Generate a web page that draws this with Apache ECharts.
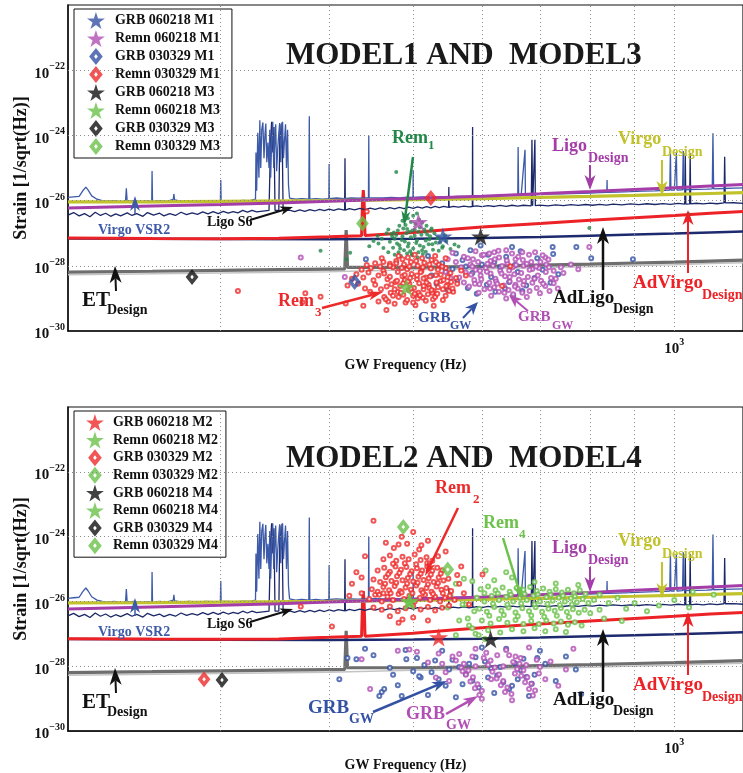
<!DOCTYPE html>
<html><head><meta charset="utf-8">
<script src="https://cdn.jsdelivr.net/npm/echarts@6/dist/echarts.min.js"></script>
<style>html,body{margin:0;padding:0;background:#fff}#c{width:743px;height:773px}</style>
</head><body><div id="c"></div>
<script>
// ---------------- DATA ----------------
const X_GRID = [300,400,500,600,700,800,900,1000];
const X_TICK = 1000, X_TICK_LABEL = ['10','3'];
const Y_TICKS = [1e-30,1e-28,1e-26,1e-24,1e-22];
const Y_TICK_LABELS = ['\u221230','\u221228','\u221226','\u221224','\u221222'];

const virgoVSR2 = [[200,1.25e-26],[203,1.3e-26],[206,1.35e-26],[208,2.0e-26],[209.7,2.6e-26],[211,2.1e-26],[213,1.4e-26],[216,1.1e-26],[219,1.0e-26],[222,9.6e-27],[226,1.0e-26],[230,9.3e-27],[233,9.6e-27],[233.5,2.4e-26],[234,9.6e-27],[238,1.0e-26],[243,9.4e-27],[247,9.8e-27],[249.8,9.5e-27],[250,8.1e-26],[250.3,9.5e-27],[255,1.0e-26],[260,9.5e-27],[264.5,1.1e-26],[264.9,1.6e-26],[265.4,1.05e-26],[270,9.7e-27],[276,1.0e-26],[282,9.6e-27],[288,1.0e-26],[294,9.8e-27],[299.7,1.0e-26],[300,4.3e-26],[300.3,1.0e-26],[306,1.0e-26],[312,9.7e-27],[318,1.02e-26],[324,1.0e-26],[329,1.1e-26],
[329.4,3.0e-25],[330,2e-26],[331,1.2e-24],[332,5e-26],[332.8,2.9e-24],[333.6,1e-25],[334.5,1.5e-24],[335.5,2.5e-24],[336.5,2e-25],[337.3,1.0e-24],[338.1,2.3e-24],[339,1.5e-25],[340,6e-25],[341,1e-25],[341.7,1.5e-24],[342.5,5e-26],[343.5,8e-25],[344.4,2.6e-24],[345.3,1e-25],[346.2,5e-25],[347.1,2.2e-24],[348,8e-26],[349,4e-25],[350,1.2e-24],[350.8,2.4e-24],[351.8,1.5e-25],[352.6,1.0e-24],[353.5,2.6e-24],[354.4,2e-25],[355.3,7e-25],[356.3,2.2e-24],[357.2,1e-25],[358.2,1.5e-24],[359.1,3e-26],[360.1,1.2e-26],
[366,1.1e-26],[372,1.15e-26],[379,1.1e-26],[379.5,3.9e-24],[380,1.1e-26],[386,1.15e-26],[393,1.1e-26],[399.7,1.15e-26],[400,1.33e-25],[400.3,1.15e-26],[408,1.2e-26],[416,1.15e-26],[424,1.2e-26],[432,1.18e-26],[440,1.2e-26],[444,1.2e-26],[444.4,1.0e-24],[444.8,1.2e-26],[452,1.22e-26],[462,1.2e-26],[472,1.25e-26],[482,1.22e-26],[492,1.28e-26],[499.7,1.25e-26],[500,8.7e-26],[500.3,1.25e-26],[512,1.3e-26],[525,1.28e-26],[538,1.33e-26],[550,1.3e-26],[562,1.35e-26],[575,1.35e-26],[590,1.38e-26],[605,1.4e-26],[620,1.42e-26],[635,1.45e-26],[650,1.45e-26],[660,1.5e-26],[660.6,4.4e-25],[661.5,1.5e-26],[666,1.5e-26],[672.8,3.6e-25],[673.5,1.5e-26],[680,1.5e-26],[700,1.55e-26],[720,1.6e-26],[740,1.6e-26],[760,1.65e-26],[780,1.68e-26],[800,1.7e-26],[820,1.75e-26],[836,1.78e-26],[836.5,4.3e-26],[837,1.78e-26],[860,1.82e-26],[890,1.88e-26],[920,1.95e-26],[950,2.0e-26],[975,2.05e-26],[988,2.1e-26],[989.7,3.6e-25],[991,2.1e-26],[1000,2.1e-26],[1004,2.1e-26],[1005.5,3.0e-25],[1007,2.1e-26],[1022,2.15e-26],[1024,3.3e-25],[1026,2.15e-26],[1060,2.2e-26],[1090,2.25e-26],[1106,2.3e-26],[1108,1.17e-24],[1110,2.3e-26],[1140,2.35e-26],[1170,2.4e-26],[1200,2.45e-26]];

const ligoS6 = [[200,3.6e-27],[203,4.3e-27],[206,3.4e-27],[209,4.0e-27],[212,3.2e-27],[215,4.4e-27],[218,3.5e-27],[221,4.1e-27],[224,3.3e-27],[227,3.9e-27],[230,3.4e-27],[234,4.2e-27],[237,3.5e-27],[240,4.0e-27],[244,3.3e-27],[247,4.3e-27],[251,3.6e-27],[255,4.1e-27],[258,3.4e-27],[262,4.0e-27],[266,3.5e-27],[270,4.4e-27],[274,3.7e-27],[278,4.2e-27],[282,3.8e-27],[286,4.5e-27],[290,3.9e-27],[294,4.6e-27],[298,4.0e-27],[302,4.7e-27],[306,4.1e-27],[310,4.6e-27],[314,4.2e-27],[318,5.0e-27],[322,4.4e-27],[326,5.0e-27],[330,4.5e-27],
[341,5e-27],[342.5,8e-25],[343.4,2.6e-24],[344.5,3e-25],[345.5,1.8e-24],[346.5,5e-27],[350,5e-27],[351,2.2e-24],[352,4e-25],[353,2.5e-24],[354,5e-27],
[360,5.1e-27],[365,4.6e-27],[370,5.2e-27],[375,4.7e-27],[380,5.3e-27],[385,4.8e-27],[390,5.4e-27],[395,4.9e-27],[400,5.5e-27],[405,5.0e-27],[410,5.6e-27],[416.8,5.1e-27],[417.2,2.0e-25],[417.6,5.1e-27],[422,5.7e-27],[428,5.2e-27],[434,5.8e-27],[440,5.3e-27],[446,5.9e-27],[452,5.4e-27],[458,6.0e-27],[464,5.5e-27],[470,6.1e-27],[476,5.6e-27],[482,6.2e-27],[488,5.7e-27],[494,6.3e-27],[500,5.8e-27],[506,6.4e-27],[512,5.9e-27],[518,6.5e-27],[524,6.0e-27],[530,6.6e-27],[536,6.1e-27],[542,6.6e-27],[549.3,6.2e-27],[549.6,2.6e-26],[550,6.2e-27],[556,6.7e-27],[564,6.3e-27],[572,6.8e-27],[580,6.4e-27],[585,6.6e-27],[585.4,1.8e-24],[585.8,6.6e-27],[592,6.9e-27],[600,6.5e-27],[610,7.0e-27],[620,6.6e-27],[630,7.1e-27],[640,6.7e-27],[650,7.2e-27],[660,6.8e-27],[670,7.2e-27],[684,6.9e-27],[685.3,7.3e-25],[686.5,6.9e-27],[690,7.0e-27],[690.7,7.3e-25],[691.5,7.0e-27],[700,7.3e-27],[715,6.9e-27],[730,7.4e-27],[745,7.0e-27],[760,7.5e-27],[775,7.1e-27],[790,7.6e-27],[805,7.2e-27],[820,7.7e-27],[835,7.3e-27],[850,7.8e-27],[870,7.4e-27],[890,7.9e-27],[910,7.5e-27],[930,8.0e-27],[950,7.6e-27],[970,8.1e-27],[990,7.7e-27],[1010,8.2e-27],[1028,7.8e-27],[1029.5,2.9e-25],[1031,7.8e-27],[1041.5,7.9e-27],[1043,2.9e-25],[1044.5,7.9e-27],[1060,8.3e-27],[1080,7.9e-27],[1100,8.4e-27],[1120,8.0e-27],[1141,8.5e-27],[1143,2.2e-25],[1145,8.5e-27],[1170,8.6e-27],[1200,8.2e-27]];

const virgoDesign = [[200,9.1e-27],[250,9.2e-27],[300,9.5e-27],[400,1.0e-26],[500,1.07e-26],[600,1.15e-26],[700,1.25e-26],[800,1.35e-26],[900,1.45e-26],[1000,1.55e-26],[1100,1.65e-26],[1200,1.75e-26]];
const ligoDesign = [[200,5.9e-27],[250,6.8e-27],[300,7.6e-27],[350,8.5e-27],[400,9.6e-27],[500,1.15e-26],[600,1.37e-26],[700,1.62e-26],[800,1.9e-26],[900,2.2e-26],[1000,2.5e-26],[1100,2.8e-26],[1200,3.1e-26]];
const adVirgo = [[200,7.1e-28],[250,6.9e-28],[300,6.8e-28],[350,7.0e-28],[400,7.8e-28],[436,8.4e-28],[437,8e-27],[438,2.1e-26],[439,8e-27],[440,8.5e-28],[500,1.05e-27],[550,1.3e-27],[600,1.55e-27],[700,2.0e-27],[800,2.5e-27],[900,3.0e-27],[1000,3.5e-27],[1100,4.1e-27],[1200,4.6e-27]];
const adLigo = [[200,6.9e-28],[300,6.6e-28],[400,6.5e-28],[500,6.7e-28],[600,7.1e-28],[700,7.7e-28],[800,8.4e-28],[900,9.1e-28],[1000,9.8e-28],[1100,1.05e-27],[1200,1.12e-27]];
const etDesign = [[200,6.4e-29],[250,6.8e-29],[300,7.2e-29],[350,7.6e-29],[400,7.9e-29],[417,8.0e-29],[418.5,1.25e-27],[420,9.0e-29],[500,9.0e-29],[600,9.6e-29],[700,1.05e-28],[800,1.13e-28],[900,1.22e-28],[1000,1.3e-28],[1100,1.4e-28],[1200,1.5e-28]];
const etLow = [[200,5.3e-29],[300,6.0e-29],[400,6.6e-29],[500,7.5e-29],[600,8.0e-29],[700,8.8e-29],[800,9.4e-29],[900,1.02e-28],[1000,1.08e-28],[1100,1.17e-28],[1200,1.25e-28]];

// top panel clusters (MODEL1 / MODEL3)
const rem1 = [[478,8.8e-28],[485,6.2e-28],[491,1.0e-27],[497,7.5e-28],[504,5.0e-28],[511,9.0e-28],[517,6.0e-28],[470,5.5e-28],[474,3.6e-28],[482,4.3e-28],[488,3.0e-28],[494,4.8e-28],[500,3.4e-28],[507,2.6e-28],[514,3.8e-28],[521,4.6e-28],[527,3.1e-28],[480,1.2e-27],[487,1.4e-27],[495,1.1e-27],[502,1.3e-27],[509,1.5e-27],[516,1.1e-27],[523,8.0e-28],[473,7.8e-28],[466,1.0e-27],[460,6.8e-28],[456,4.8e-28],[462,3.5e-28],[468,2.6e-28],[476,2.2e-28],[484,2.0e-28],[492,2.4e-28],[499,2.1e-28],[506,1.8e-28],[513,2.3e-28],[520,2.0e-28],[531,5.2e-28],[536,7.0e-28],[541,4.0e-28],[546,5.8e-28],[552,3.3e-28],[558,4.5e-28],[564,3.9e-28],[450,5.8e-28],[445,4.0e-28],[455,8.2e-28],[490,1.8e-27],[497,2.2e-27],[503,1.9e-27],[508,2.6e-27],[493,2.9e-27],[500,3.4e-27],[486,2.4e-27],[512,2.1e-27],[518,1.7e-27],[505,4.0e-27],[482,1.7e-27],[525,1.4e-27],[478,7.6e-26],[391,2.9e-28],[419,1.6e-28],[423,2.5e-28],[798,1.45e-27],[1038,3.9e-27],
[468,1.3e-27],[472,9.5e-28],[476,6.8e-28],[479,4.8e-28],[483,3.4e-28],[486,8.0e-28],[489,5.6e-28],[493,3.9e-28],[496,2.8e-28],[499,1.2e-27],[502,8.4e-28],[505,6.0e-28],[509,4.2e-28],[512,3.0e-28],[515,1.3e-27],[519,9.2e-28],[522,6.5e-28],[526,4.6e-28],[529,1.0e-27],[533,7.3e-28],[537,5.2e-28],[540,3.6e-28],[544,8.6e-28],[475,1.05e-27],[492,1.35e-27],[507,1.1e-27],[524,1.2e-27],[481,2.6e-28],[498,2.3e-28],[517,2.7e-28],[535,2.9e-28]];
const rem3 = [[474,9e-29],[480,6.5e-29],[486,4.8e-29],[492,7.8e-29],[498,5.6e-29],[505,3.9e-29],[511,6.9e-29],[517,4.4e-29],[524,8.2e-29],[531,5.1e-29],[538,3.4e-29],[477,3.2e-29],[483,2.4e-29],[489,3.6e-29],[495,2.8e-29],[501,2.1e-29],[508,2.9e-29],[514,1.9e-29],[521,2.6e-29],[528,1.7e-29],[534,2.2e-29],[480,1.6e-29],[487,1.3e-29],[494,1.8e-29],[500,1.2e-29],[507,1.5e-29],[513,1.05e-29],[520,1.35e-29],[527,9.5e-30],[470,1.15e-28],[478,1.4e-28],[488,1.1e-28],[497,1.3e-28],[506,1.0e-28],[515,1.25e-28],[525,1.5e-28],[535,1.1e-28],[545,8.5e-29],[552,6.0e-29],[560,4.2e-29],[568,7.2e-29],[575,5.0e-29],[462,7e-29],[456,5e-29],[450,3.6e-29],[444,6.2e-29],[438,4.4e-29],[432,2.8e-29],[466,2.3e-29],[459,1.9e-29],[452,2.6e-29],[446,1.6e-29],[440,2.0e-29],[471,1.5e-29],[463,1.1e-29],[468,8.0e-30],[476,6.8e-30],[490,7.5e-30],[503,6.2e-30],[541,1.9e-29],[548,2.6e-29],[556,1.6e-29],[545,1.2e-29],[553,3.2e-29],[481,2.0e-28],[493,1.8e-28],[512,1.7e-28],[502,2.2e-28],[530,2.0e-28],[545,1.7e-28],[460,1.7e-28],[375.5,1.43e-29],[391,1.13e-29],[372.6,7.6e-30],[438,5.9e-30],[465.7,4.4e-30],[528,6.0e-30],[418,7.0e-30],[314,1.7e-29],[647,9.7e-29],[633,2.4e-29],[442,4.6e-27],
[458,9.5e-29],[463,5.8e-29],[467,3.9e-29],[472,2.7e-29],[476,1.9e-29],[481,1.1e-29],[485,8.5e-29],[489,5.2e-29],[493,3.3e-29],[497,2.0e-29],[502,1.4e-29],[506,1.0e-29],[510,6.3e-29],[514,4.1e-29],[518,3.0e-29],[522,2.1e-29],[526,1.5e-29],[530,1.1e-29],[534,7.5e-29],[538,5.3e-29],[542,3.7e-29],[546,2.4e-29],[550,1.7e-29],[462,1.3e-28],[470,1.0e-28],[478,1.2e-28],[486,1.6e-28],[495,9.5e-29],[504,1.4e-28],[513,9.0e-29],[522,1.1e-28],[531,1.3e-28],[540,9.5e-29],[456,8.0e-30],[465,9.5e-30],[474,1.2e-29],[484,1.5e-29],[492,9.0e-30],[500,7.5e-30],[509,1.25e-29],[517,8.5e-30],[525,1.8e-29],[533,1.4e-29],[541,9.0e-30],[470,4.6e-29],[479,3.5e-29],[487,2.9e-29],[496,4.2e-29],[505,5.0e-29],[514,2.4e-29],[523,4.7e-29],[532,3.1e-29],[548,4.5e-29],[555,2.0e-29],[562,2.8e-29],[452,1.2e-28],[447,8.5e-29],[442,1.05e-28],[436,7.5e-29],[430,5.5e-29],[425,4.0e-29],[420,2.5e-29]];
const grbBlueTop = [[540,1.2e-28],[555,8e-29],[570,1.5e-28],[585,6e-29],[600,1.1e-28],[615,4.5e-29],[630,9e-29],[645,3.2e-29],[660,6.5e-29],[675,2.5e-29],[690,4.2e-29],[705,7.5e-29],[720,3.0e-29],[735,5.5e-29],[525,5.0e-29],[532,2.8e-29],[548,1.8e-29],[562,3.6e-29],[578,2.1e-29],[592,1.4e-29],[608,2.6e-29],[622,1.6e-29],[638,2.0e-29],[652,1.2e-29],[668,1.7e-29],[582,3.0e-28],[610,2.2e-28],[640,1.9e-28],[665,2.8e-28],[695,1.7e-28],[725,2.3e-28],[560,2.4e-28],[520,2.0e-28],[598,4.2e-28],[650,3.8e-28],[724,3.8e-28],[771,3.8e-28],[802,1.7e-28],[896,1.6e-28],[441,1.6e-28],[545,6.8e-29],[575,9.5e-29],[620,1.3e-28],[655,1.05e-28]];
const grbMagTop = [[560,1.3e-28],[568,9e-29],[575,6.2e-29],[582,1.1e-28],[590,7.5e-29],[598,5.0e-29],[606,8.5e-29],[614,5.8e-29],[622,4.0e-29],[630,7.0e-29],[638,4.8e-29],[646,3.3e-29],[654,5.5e-29],[662,3.8e-29],[670,2.6e-29],[678,4.5e-29],[686,3.0e-29],[694,2.1e-29],[702,3.5e-29],[710,2.4e-29],[718,1.7e-29],[726,2.9e-29],[734,2.0e-29],[565,4.4e-29],[572,3.1e-29],[580,2.3e-29],[588,3.7e-29],[596,2.7e-29],[604,1.9e-29],[612,3.0e-29],[620,2.2e-29],[628,1.6e-29],[636,2.5e-29],[644,1.8e-29],[652,1.35e-29],[660,2.0e-29],[668,1.5e-29],[676,1.1e-29],[572,1.9e-28],[586,1.6e-28],[600,2.1e-28],[614,1.4e-28],[628,1.8e-28],[642,1.2e-28],[656,1.6e-28],[670,1.0e-28],[684,1.3e-28],[698,8.5e-29],[712,1.1e-28],[726,7.0e-29],[740,9.0e-29],[555,2.5e-28],[590,2.8e-28],[620,2.6e-28],[650,2.4e-28],[680,2.2e-28],[710,1.8e-28],[545,6.5e-29],[552,4.2e-29],[548,1.6e-28],[595,1.5e-29],[615,1.2e-29],[640,1.0e-29],[700,1.45e-29],[730,4.0e-29],[745,6.0e-29],[760,1.1e-28],[775,7.8e-29],[371,1.8e-28],[417,4.5e-29],[798,3.8e-28],
[578,1.7e-28],[583,5.3e-29],[589,2.8e-29],[594,1.3e-28],[599,3.9e-29],[603,2.2e-28],[608,6.6e-29],[613,2.0e-29],[618,1.0e-28],[623,3.3e-29],[627,2.9e-28],[632,5.8e-29],[637,1.5e-29],[641,1.45e-28],[646,4.5e-29],[651,9.0e-29],[656,2.6e-29],[661,1.9e-28],[666,6.0e-29],[671,3.4e-29],[676,1.15e-28],[681,1.7e-29],[686,8.0e-29],[691,2.6e-28],[696,5.0e-29],[701,1.3e-28],[706,2.8e-29],[711,6.5e-29],[716,1.55e-28],[721,4.2e-29],[585,9.5e-29],[597,7.0e-29],[609,1.15e-28],[621,1.6e-28],[633,9.8e-29],[645,7.2e-29],[657,1.05e-28],[669,1.5e-28],[681,7.5e-29],[693,9.5e-29],[705,2.1e-28],[717,9.0e-29],[625,2.8e-29],[655,2.3e-29],[690,4.0e-29],[612,2.4e-28],[640,3.0e-28],[668,2.6e-28]];

// bottom panel clusters (MODEL2 / MODEL4)
const rem2 = [[445,1.2e-26],[452,1.6e-26],[460,1.0e-26],[467,1.4e-26],[474,1.1e-26],[481,1.7e-26],[488,1.2e-26],[495,1.5e-26],[502,1.0e-26],[509,1.3e-26],[516,1.6e-26],[523,1.1e-26],[530,1.4e-26],[537,1.0e-26],[544,1.3e-26],[551,1.5e-26],[558,1.1e-26],
[448,2.4e-26],[455,2.0e-26],[462,2.8e-26],[469,2.2e-26],[476,3.0e-26],[483,2.1e-26],[490,2.7e-26],[497,2.3e-26],[504,3.1e-26],[511,2.2e-26],[518,2.6e-26],[525,2.0e-26],[532,2.9e-26],[539,2.3e-26],[546,2.6e-26],[553,2.1e-26],
[450,4.8e-26],[458,4.0e-26],[465,5.6e-26],[472,4.3e-26],[479,6.0e-26],[486,4.5e-26],[493,5.3e-26],[500,4.1e-26],[507,5.8e-26],[514,4.6e-26],[521,5.2e-26],[528,4.0e-26],[535,5.5e-26],[542,4.4e-26],[549,5.0e-26],
[455,9.0e-26],[463,1.1e-25],[470,8.2e-26],[477,1.2e-25],[484,9.5e-26],[491,1.15e-25],[498,8.5e-26],[505,1.05e-25],[512,9.0e-26],[519,1.2e-25],[526,8.8e-26],[533,1.1e-25],[540,9.2e-26],
[462,2.0e-25],[470,2.6e-25],[478,1.8e-25],[486,2.4e-25],[494,2.0e-25],[502,2.8e-25],[510,1.9e-25],[518,2.3e-25],[526,1.8e-25],[534,2.5e-25],
[450,6.5e-27],[460,5.5e-27],[470,7.0e-27],[480,5.0e-27],[490,6.2e-27],[500,7.2e-27],[510,5.6e-27],[520,6.8e-27],[530,5.3e-27],[540,6.4e-27],[550,7.5e-27],
[457,1.6e-26],[471,1.8e-26],[485,1.9e-26],[499,1.8e-26],[513,1.9e-26],[527,1.7e-26],[541,1.8e-26],[464,3.5e-26],[478,3.8e-26],[492,3.6e-26],[506,3.8e-26],[520,3.4e-26],[534,3.7e-26],[468,7.0e-26],[482,7.5e-26],[496,7.0e-26],[510,7.2e-26],[524,6.8e-26],[538,7.3e-26],[474,1.45e-25],[489,1.5e-25],[504,1.4e-25],[519,1.55e-25],
[475,4.5e-25],[492,6.0e-25],[508,4.0e-25],[520,7.5e-25],[485,1.0e-24],[500,1.4e-24],[450,3.1e-24],[481,5.7e-25],[511,5.4e-25],[465,6.5e-25],[440,2.5e-25],[430,8.0e-26],[425,3.5e-26],[436,1.8e-26],[565,3.5e-26],[572,1.8e-26],[580,8.0e-27],[562,6.5e-26],[568,1.2e-25],[545,3.5e-25],
[403,1.7e-27],[481,2.2e-27],[486,2.8e-27],[470,3.5e-27],[500,3.2e-27],[520,2.6e-27],[422,1.5e-26],[462,1.8e-26],[371,7.0e-27],[436,5.5e-26],[601,6.8e-26]];
const rem4 = [[598,2.4e-26],[610,2.9e-26],[622,2.2e-26],[634,2.7e-26],[646,2.0e-26],[658,2.6e-26],[670,2.3e-26],[682,2.8e-26],[694,2.1e-26],[706,2.5e-26],[718,2.0e-26],[730,2.4e-26],[742,1.9e-26],[754,2.3e-26],[766,1.8e-26],[778,2.2e-26],[790,1.7e-26],
[592,1.3e-26],[604,1.0e-26],[616,1.5e-26],[628,1.1e-26],[640,1.4e-26],[652,1.0e-26],[664,1.3e-26],[676,1.1e-26],[688,1.5e-26],[700,1.0e-26],[712,1.35e-26],[724,1.05e-26],[736,1.3e-26],[748,1.0e-26],[760,1.25e-26],[772,9.5e-27],[784,1.2e-26],[796,9.0e-27],[808,1.1e-26],
[596,6.0e-27],[608,4.8e-27],[620,6.8e-27],[632,5.2e-27],[644,6.5e-27],[656,4.6e-27],[668,6.2e-27],[680,5.0e-27],[692,6.6e-27],[704,4.8e-27],[716,6.0e-27],[728,5.2e-27],[740,6.3e-27],[752,4.7e-27],[764,5.8e-27],[776,4.5e-27],[788,5.5e-27],[800,4.3e-27],
[600,2.6e-27],[614,2.1e-27],[628,2.9e-27],[642,2.2e-27],[656,2.7e-27],[670,2.0e-27],[684,2.5e-27],[698,2.0e-27],[712,2.6e-27],[726,2.1e-27],[740,2.4e-27],[754,1.9e-27],[768,2.3e-27],[782,1.8e-27],
[610,1.3e-27],[630,1.1e-27],[650,1.4e-27],[670,1.2e-27],[690,1.5e-27],[710,1.2e-27],[730,1.4e-27],[750,1.15e-27],
[604,1.8e-26],[626,1.75e-26],[648,1.6e-26],[672,1.7e-26],[696,1.65e-26],[720,1.6e-26],[744,1.5e-26],[768,1.45e-26],[618,8.5e-27],[642,8.0e-27],[666,8.6e-27],[690,8.2e-27],[714,8.4e-27],[738,7.8e-27],[762,8.0e-27],[612,3.6e-27],[636,3.8e-27],[660,3.5e-27],[684,3.7e-27],[708,3.4e-27],[732,3.6e-27],[756,3.3e-27],
[560,3.5e-26],[572,5.0e-26],[585,4.2e-26],[620,4.5e-26],[650,5.5e-26],[690,4.0e-26],[730,3.6e-26],[775,3.2e-26],[820,1.6e-26],[840,9e-27],[860,1.3e-26],[880,6e-27],[900,9e-27],[930,5e-27],[960,7.5e-27],[1000,1.1e-26],[1040,6.5e-27],[1050,2.0e-26],[1110,1.6e-26],[552,1.6e-26],[548,6.5e-27],[565,2.6e-27],[580,1.8e-27],[575,8.0e-27],[588,5.0e-27],[560,9e-28],[590,1.0e-27],[830,3.0e-27],[870,2.5e-27],[820,5.5e-27],[570,8e-27],[578,3e-27],[585,1.5e-27],[595,9e-28],[605,7e-28],[606,9e-26],[640,8e-26]];
const grbBlueBot = [[505,1.8e-28],[515,1.1e-28],[525,6.5e-29],[535,4.0e-29],[545,2.5e-29],[555,1.6e-28],[565,9.5e-29],[575,5.8e-29],[585,3.6e-29],[595,2.2e-29],[605,1.4e-28],[615,8.5e-29],[625,5.2e-29],[635,3.2e-29],[645,2.0e-29],[655,1.25e-28],[665,7.6e-29],[675,4.7e-29],[685,2.9e-29],[695,1.8e-28],[510,4.5e-29],[530,1.5e-28],[550,8.0e-29],[570,2.8e-29],[590,1.9e-28],[610,4.5e-29],[630,9.5e-29],[650,2.5e-29],[670,1.7e-28],[690,5.5e-29],[710,1.2e-28],[730,3.5e-29],[750,2.0e-28],[770,8e-29],[781,1.4e-29],[480,2.6e-29],[470,9e-29],[460,1.6e-29],[450,2.2e-28],[430,1.65e-28],[411,4.0e-29],[420,1.8e-28],[440,3.5e-28],[490,3.2e-28],[540,3.0e-28],[600,3.8e-28],[640,3.5e-28],[700,3.0e-28],[485,1.2e-29],[520,1.3e-29],[560,1.1e-29],[620,1.5e-29],[680,1.2e-29],[500,7e-29],[580,1.2e-28],[660,4e-29],[457,1.2e-29],[463,2.0e-29],[474,5.5e-29],[491,1.65e-28],[508,4.9e-29]];
const grbMagBot = [[560,1.5e-28],[568,9e-29],[575,5.5e-29],[582,3.4e-29],[589,2.1e-29],[596,1.3e-29],[603,1.8e-28],[610,1.1e-28],[617,6.8e-29],[624,4.2e-29],[631,2.6e-29],[638,1.6e-29],[645,2.2e-28],[652,1.35e-28],[659,8.3e-29],[666,5.1e-29],[673,3.2e-29],[680,2.0e-29],[687,1.25e-29],[694,1.6e-28],[700,9.5e-29],[565,2.4e-28],[572,1.2e-28],[579,7.4e-29],[586,4.6e-29],[593,2.8e-29],[600,1.75e-29],[607,2.6e-28],[614,1.5e-28],[621,9.2e-29],[628,5.6e-29],[635,3.5e-29],[642,2.2e-29],[649,1.4e-29],[656,2.0e-28],[663,1.2e-28],[670,7.5e-29],[677,4.6e-29],[684,2.9e-29],[691,1.8e-29],[698,6.0e-29],[540,1.2e-28],[545,6.5e-29],[550,3.5e-29],[555,2.0e-28],[535,2.5e-28],[531,4.5e-29],[520,1.3e-28],[505,2.8e-28],[495,3.3e-28],[436,1.65e-28],[446,2.0e-29],[480,3.0e-28],[710,4.0e-29],[720,1.4e-28],[735,2.5e-29],[750,8e-29],[765,3.5e-28],[590,3.5e-28],[640,3.2e-28],[600,1e-29],[650,9e-30],[680,3.8e-28],[570,7.0e-29],[590,1.0e-28],[615,4.0e-29],[635,1.0e-28],[655,6.0e-29],[675,1.1e-28],[585,2.0e-28],[625,2.2e-28],[665,1.8e-28]];

// markers (legend entries)
const topNames = ['GRB 060218 M1','Remn 060218 M1','GRB 030329 M1','Remn 030329 M1','GRB 060218 M3','Remn 060218 M3','GRB 030329 M3','Remn 030329 M3'];
const topPts = [[541,7.9e-28],[507,2.2e-27],[428,3.2e-29],[524,1.2e-26],[598,7.9e-28],[491,2.2e-29],[278,4.5e-29],[437,2.0e-27]];
const botNames = ['GRB 060218 M2','Remn 060218 M2','GRB 030329 M2','Remn 030329 M2','GRB 060218 M4','Remn 060218 M4','GRB 030329 M4','Remn 030329 M4'];
const botPts = [[535,7.8e-28],[495,1.0e-26],[287,4.0e-29],[487,2.0e-24],[614,6.8e-28],[495,1.0e-26],[301,3.8e-29],[548,9.6e-26]];

// ---------------- STYLE ----------------
const F = 'Liberation Serif';
const STAR = 'path://M50,0L61.2,34.5L97.6,34.5L68.2,55.9L79.4,90.5L50,69.1L20.6,90.5L31.8,55.9L2.4,34.5L38.8,34.5Z';
const DIAM = 'path://M40,0L80,50L40,100L0,50ZM40,36L29,50L40,64L51,50Z';
const C = {vsr2:'#3d5aa8', s6:'#1b2867', vd:'#c2c22c', ld:'#a43da8', av:'#ec2227', al:'#1d2b6e', et:'#6e6e6e',
  g1:'#23874a', red:'#ed2a2a', blue:'#3452a4', mag:'#b24fb4', lg:'#6cc24a', blk:'#111'};
const topSty = [[C.blue,STAR],[C.mag,STAR],[C.blue,DIAM],[C.red,DIAM],[C.blk,STAR],[C.lg,STAR],[C.blk,DIAM],[C.lg,DIAM]];
const botSty = [[C.red,STAR],[C.lg,STAR],[C.red,DIAM],[C.lg,DIAM],[C.blk,STAR],[C.lg,STAR],[C.blk,DIAM],[C.lg,DIAM]];

function lineS(name, data, color, width, p, z) {
  return {type:'line', name, data, xAxisIndex:p, yAxisIndex:p, symbol:'none', showSymbol:false,
    lineStyle:{color, width}, itemStyle:{color}, z, silent:true, animation:false};
}
function dots(name, data, color, p, ring, size) {
  return {type:'scatter', name, data, xAxisIndex:p, yAxisIndex:p, symbol:'circle', symbolSize:size,
    itemStyle: ring ? {color:'#fff', borderColor:color, borderWidth:2} : {color}, z:5, silent:true, animation:false};
}
function marks(names, pts, sty, p) {
  return names.map((n,i)=>({type:'scatter', name:n, data:[pts[i]], xAxisIndex:p, yAxisIndex:p,
    symbol:sty[i][1], symbolSize: sty[i][1]===STAR ? 19 : 16, symbolKeepAspect:true,
    itemStyle:{color:sty[i][0]}, z:10, silent:true, animation:false}));
}
const tickRich = {b:{fontFamily:F, fontWeight:'bold', fontSize:15, color:'#111', padding:[7,0,0,0]},
                  s:{fontFamily:F, fontWeight:'bold', fontSize:10, color:'#111', padding:[0,0,7,0]}};
function gridS(p) {
  return {type:'line', data:[[200,1e-25]], xAxisIndex:p, yAxisIndex:p, symbol:'none', lineStyle:{opacity:0}, z:1, silent:true, animation:false,
    markLine:{silent:true, symbol:['none','none'], animation:false, lineStyle:{color:'#8c8c8c', type:[1,3], width:1},
      label:{show:false},
      data:[...X_GRID.map(v=>({xAxis:v})),
            ...Y_TICKS.map((v,i)=>[
              {coord:[200, v], lineStyle:{color: i===0 ? 'rgba(0,0,0,0)' : '#8c8c8c', type:[1,3], width:1},
               label:{show:true, position:'start', distance:3, formatter:'{b|10}{s|'+Y_TICK_LABELS[i]+'}', rich:tickRich}},
              {coord:[1200, v]}])]}};
}
function panelSeries(p) {
  return [gridS(p),
    lineS('ET Design b', etLow, '#c4c4c4', 1.5, p, 2),
    lineS('ET Design', etDesign, C.et, 3.2, p, 2),
    lineS('AdLigo Design', adLigo, C.al, 2.5, p, 2),
    lineS('AdVirgo Design', adVirgo, C.av, 3, p, 2),
    lineS('Ligo S6', ligoS6, C.s6, 1.3, p, 2),
    lineS('Virgo VSR2', virgoVSR2, C.vsr2, 1.3, p, 2),
    lineS('Virgo Design', virgoDesign, C.vd, 3.2, p, 3),
    lineS('Ligo Design', ligoDesign, C.ld, 3, p, 3)];
}
const xAxisBase = (p)=>({type:'log', logBase:10, gridIndex:p, min:200, max:1200,
  axisLine:{show:true, lineStyle:{color:'#111', width:1.5}}, axisTick:{show:false}, splitLine:{show:false},
  axisLabel:{margin:4, formatter:(v)=> Math.abs(v-X_TICK)<1 ? '{b|'+X_TICK_LABEL[0]+'}{s|'+X_TICK_LABEL[1]+'}' : '',
    showMinLabel:false, showMaxLabel:false, rich:tickRich},
  name:'GW Frequency (Hz)', nameLocation:'middle', nameGap:22,
  nameTextStyle:{fontFamily:F, fontWeight:'bold', fontSize:14, color:'#111'}});
const yAxisBase = (p)=>({type:'log', logBase:10, gridIndex:p, min:1e-30, max:1e-20,
  axisLine:{show:true, lineStyle:{color:'#111', width:1.5}}, axisTick:{show:false}, splitLine:{show:false}, axisLabel:{show:false},
  name:'Strain [1/sqrt(Hz)]', nameLocation:'middle', nameGap:38, nameRotate:90,
  nameTextStyle:{fontFamily:F, fontWeight:'bold', fontSize:18, color:'#111'}});

// ---------------- ANNOTATIONS ----------------
function T(x, y, s, color, fs) {
  return {type:'text', x, y, z:100, silent:true,
    style:{text:s, fill:color, fontFamily:F, fontWeight:'bold', fontSize:fs, align:'left', verticalAlign:'middle'}};
}
function A(x1,y1,x2,y2,color,lw,hl,hw) {
  const dx=x2-x1, dy=y2-y1, L=Math.hypot(dx,dy), ux=dx/L, uy=dy/L, px=-uy, py=ux;
  const bx=x2-ux*hl, by=y2-uy*hl, nx=x2-ux*hl*0.72, ny=y2-uy*hl*0.72;
  return [{type:'line', z:99, silent:true, shape:{x1,y1,x2:nx,y2:ny}, style:{stroke:color, lineWidth:lw}},
          {type:'polygon', z:99, silent:true, shape:{points:[[x2,y2],[bx+px*hw/2,by+py*hw/2],[nx,ny],[bx-px*hw/2,by-py*hw/2]]}, style:{fill:color}}];
}
function common(d) {
  return [
    T(98,230+d,'Virgo VSR2',C.vsr2,14), ...A(135,214+d,135,196+d,C.vsr2,1.5,15,10),
    T(207,222+d,'Ligo S6','#111',14), ...A(250,220+d,293,207+d,'#111',2,13,9),
    T(82,301+d,'ET','#111',21), T(107,310+d,'Design','#111',14), ...A(116,291+d,115,266+d,'#111',2,17,12),
    T(553,298+d,'AdLigo','#111',19), T(613,309+d,'Design','#111',14), ...A(603,290+d,603,227+d,'#111',2.5,17,12),
    T(633,283+d,'AdVirgo',C.av,19), T(702,295+d,'Design',C.av,14), ...A(688,273+d,688,210+d,C.av,2,15,11),
    T(552,146+d,'Ligo',C.ld,18), T(588,158+d,'Design',C.ld,14), ...A(590,165+d,590,190+d,C.ld,2,15,11),
    T(618,139+d,'Virgo',C.vd,18), T(662,152+d,'Design',C.vd,14), ...A(662,160+d,662,196+d,C.vd,2,15,11)
  ];
}
const graphics = [
  T(286,56,'MODEL1 AND  MODEL3','#1a1a1a',31),
  T(286,459,'MODEL2 AND  MODEL4','#1a1a1a',31),
  ...common(0), ...common(402),
  T(392,138,'Rem',C.g1,18), T(428,146,'1',C.g1,13), ...A(413,157,404,226,C.g1,2.5,15,9),
  T(278,301,'Rem',C.red,18), T(315,313,'3',C.red,13), ...A(322,308,383,292,C.red,2.5,15,9),
  T(418,318,'GRB',C.blue,15), T(450,326,'GW',C.blue,12), ...A(463,318,478,302,C.blue,2,13,11),
  T(518,317,'GRB',C.mag,15), T(552,326,'GW',C.mag,12), ...A(528,311,509,295,C.mag,2,13,11),
  T(435,488,'Rem',C.red,18), T(473,500,'2',C.red,13), ...A(458,508,425,576,C.red,2.5,15,9),
  T(483,523,'Rem',C.lg,18), T(519,535,'4',C.lg,13), ...A(503,538,522,600,C.lg,2.5,15,9),
  T(308,708,'GRB',C.blue,19), T(349,719,'GW',C.blue,14), ...A(373,712,447,681,C.blue,2.5,15,10),
  T(406,714,'GRB',C.mag,18), T(446,725,'GW',C.mag,14), ...A(446,714,478,696,C.mag,2.5,15,10)
];

const legendBase = (names, top, gap, w, padL, padR)=>({data:names, orient:'vertical', left:74, top, itemWidth:w, itemHeight:17, itemGap:gap,
  selectedMode:false, backgroundColor:'#fff', borderColor:'#111', borderWidth:1, padding:[3,padR,3,padL],
  textStyle:{fontFamily:F, fontWeight:'bold', fontSize:14, color:'#111'}});

const option = {
  animation:false, backgroundColor:'#fff',
  grid:[{left:68, top:5, width:682, height:326, show:true, borderColor:'#111', borderWidth:1.2, backgroundColor:'#fff'},
        {left:68, top:407, width:682, height:325, show:true, borderColor:'#111', borderWidth:1.2, backgroundColor:'#fff'}],
  xAxis:[xAxisBase(0), xAxisBase(1)],
  yAxis:[yAxisBase(0), yAxisBase(1)],
  legend:[legendBase(topNames, 9, 1, 28, 13, 12), legendBase(botNames, 411, 0.6, 26, 12, 8)],
  series:[
    ...panelSeries(0),
    dots('Rem1', rem1, C.g1, 0, false, 4),
    dots('GRB GW blue', grbBlueTop, C.blue, 0, true, 4),
    dots('GRB GW magenta', grbMagTop, C.mag, 0, true, 4),
    dots('Rem3', rem3, C.red, 0, true, 4),
    ...marks(topNames, topPts, topSty, 0),
    ...panelSeries(1),
    dots('GRB GW blue 2', grbBlueBot, C.blue, 1, true, 4),
    dots('GRB GW magenta 2', grbMagBot, C.mag, 1, true, 4),
    dots('Rem4', rem4, C.lg, 1, true, 4),
    dots('Rem2', rem2, C.red, 1, true, 4),
    ...marks(botNames, botPts, botSty, 1)
  ],
  graphic:graphics
};
const chart = echarts.init(document.getElementById('c'), null, {renderer:'canvas'});
chart.setOption(option);
</script></body></html>
